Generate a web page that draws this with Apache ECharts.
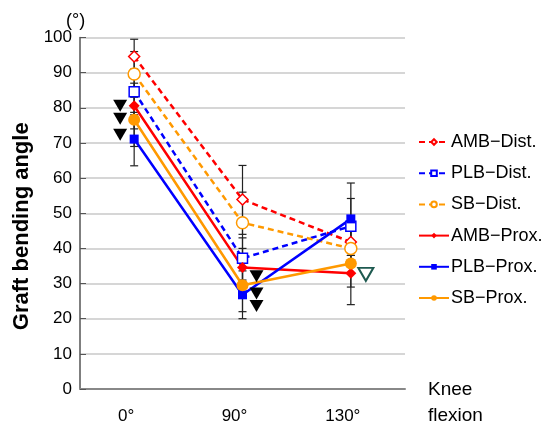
<!DOCTYPE html>
<html>
<head>
<meta charset="utf-8">
<script src="https://cdn.jsdelivr.net/npm/echarts@6/dist/echarts.min.js"></script>
<style>
  html, body { margin: 0; padding: 0; background: #fff; }
  #main { width: 541px; height: 425px; }
</style>
</head>
<body>
<div id="main"></div>
<script>
// knee flexion angles
var flexion = ['0°', '90°', '130°'];

// mean bending angle per graft
var ambDist = [94.6, 53.9, 41.8];
var plbDist = [84.6, 37.2, 46.3];
var sbDist  = [89.6, 47.3, 40.0];
var ambProx = [80.6, 34.6, 32.9];
var plbProx = [71.1, 26.8, 48.4];
var sbProx  = [76.6, 29.5, 35.7];

// error bar ends (low / high)
var ambDistLow = [89.8, 44.0, 36.0], ambDistHigh = [99.5, 63.6, 47.6];
var plbDistLow = [78.0, 31.0, 38.0], plbDistHigh = [91.0, 43.0, 54.2];
var sbDistLow  = [83.0, 38.0, 35.0], sbDistHigh  = [96.0, 56.0, 45.0];
var ambProxLow = [74.0, 29.0, 24.0], ambProxHigh = [87.0, 40.0, 41.8];
var plbProxLow = [63.5, 20.0, 38.0], plbProxHigh = [78.7, 33.6, 58.6];
var sbProxLow  = [69.0, 22.0, 29.0], sbProxHigh  = [84.0, 37.0, 42.0];

// significance marks
var sigAt0 = [80.6, 76.9, 72.3];
var sigAt90 = [32.1, 27.2, 23.6];
var sigOpenAt130 = [32.6];

var RED = '#ff0000', BLUE = '#0000ff', ORANGE = '#ff9900';
var FONT = 'Liberation Sans';

var chart = echarts.init(document.getElementById('main'), null, { renderer: 'canvas' });

function lineSeries(name, data, color, dashed, symbol, size, filled) {
  return {
    name: name,
    type: 'line',
    data: data,
    symbol: symbol,
    symbolSize: size,
    z: 5,
    lineStyle: { color: color, width: 2.5, type: dashed ? [6, 4] : 'solid' },
    itemStyle: { color: filled ? color : '#fff', borderColor: color, borderWidth: filled ? 0 : 1.5 },
    emphasis: { disabled: true },
    animation: false
  };
}

function errorData(low, high) {
  var out = [];
  for (var i = 0; i < low.length; i++) out.push([i, low[i], high[i]]);
  return out;
}

var allErrors = []
  .concat(errorData(ambDistLow, ambDistHigh))
  .concat(errorData(plbDistLow, plbDistHigh))
  .concat(errorData(sbDistLow, sbDistHigh))
  .concat(errorData(ambProxLow, ambProxHigh))
  .concat(errorData(plbProxLow, plbProxHigh))
  .concat(errorData(sbProxLow, sbProxHigh));

function renderError(params, api) {
  var lo = api.coord([api.value(0), api.value(1)]);
  var hi = api.coord([api.value(0), api.value(2)]);
  var w = 4;
  var st = { stroke: '#222', lineWidth: 1.2 };
  return {
    type: 'group',
    children: [
      { type: 'line', shape: { x1: lo[0], y1: lo[1], x2: hi[0], y2: hi[1] }, style: st },
      { type: 'line', shape: { x1: lo[0] - w, y1: lo[1], x2: lo[0] + w, y2: lo[1] }, style: st },
      { type: 'line', shape: { x1: hi[0] - w, y1: hi[1], x2: hi[0] + w, y2: hi[1] }, style: st }
    ]
  };
}

function sigData(idx, vals) {
  return vals.map(function (v) { return [idx, v]; });
}

var option = {
  backgroundColor: '#fff',
  animation: false,
  textStyle: { fontFamily: FONT },
  grid: { left: 80, right: 136, top: 37.5, bottom: 35 },
  legend: {
    orient: 'vertical',
    left: 413,
    top: 128,
    itemWidth: 30,
    itemHeight: 7,
    itemGap: 13.2,
    data: ['AMB−Dist.', 'PLB−Dist.', 'SB−Dist.', 'AMB−Prox.', 'PLB−Prox.', 'SB−Prox.'],
    textStyle: { color: '#000', fontSize: 18, fontFamily: FONT, padding: [0, 0, 0, -3] },
    selectedMode: false
  },
  xAxis: {
    type: 'category',
    data: flexion,
    boundaryGap: true,
    axisLine: { lineStyle: { color: '#888', width: 2 } },
    axisTick: { show: false },
    axisLabel: { color: '#000', fontSize: 17, margin: 19, fontFamily: FONT, padding: [0, 16, 0, 0] }
  },
  yAxis: {
    type: 'value',
    min: 0,
    max: 100,
    interval: 10,
    name: 'Graft bending angle',
    nameLocation: 'middle',
    nameGap: 46,
    nameTextStyle: { color: '#000', fontSize: 22, fontWeight: 'bold', fontFamily: FONT, padding: [0, 26, 0, 0] },
    axisLine: { show: true, lineStyle: { color: '#555', width: 1.5 } },
    axisTick: { show: true, inside: true, length: 6, lineStyle: { color: '#555' } },
    axisLabel: { color: '#000', fontSize: 17, margin: 8, fontFamily: FONT },
    splitLine: { lineStyle: { color: '#c8c8c8', width: 1.5 } }
  },
  graphic: [
    { type: 'text', left: 66, top: 12, style: { text: '(°)', fontSize: 18, fill: '#000', fontFamily: FONT } },
    { type: 'text', left: 428, top: 377, style: { text: 'Knee\nflexion', fontSize: 19, lineHeight: 26, fill: '#000', fontFamily: FONT } }
  ],
  series: [
    {
      type: 'custom',
      renderItem: renderError,
      data: allErrors,
      z: 2,
      silent: true,
      encode: { x: 0, y: [1, 2] }
    },
    lineSeries('AMB−Dist.', ambDist, RED, true, 'diamond', 11, false),
    lineSeries('PLB−Dist.', plbDist, BLUE, true, 'rect', 10, false),
    lineSeries('SB−Dist.', sbDist, ORANGE, true, 'circle', 12, false),
    lineSeries('AMB−Prox.', ambProx, RED, false, 'diamond', 11, true),
    lineSeries('PLB−Prox.', plbProx, BLUE, false, 'rect', 9, true),
    lineSeries('SB−Prox.', sbProx, ORANGE, false, 'circle', 12, true),
    {
      type: 'scatter',
      data: sigData(0, sigAt0),
      symbol: 'triangle',
      symbolRotate: 180,
      symbolSize: [14, 12],
      symbolOffset: [-14, 0],
      itemStyle: { color: '#000', opacity: 1 },
      z: 6
    },
    {
      type: 'scatter',
      data: sigData(1, sigAt90),
      symbol: 'triangle',
      symbolRotate: 180,
      symbolSize: [14, 12],
      symbolOffset: [14, 0],
      itemStyle: { color: '#000', opacity: 1 },
      z: 6
    },
    {
      type: 'scatter',
      data: sigData(2, sigOpenAt130),
      symbol: 'triangle',
      symbolRotate: 180,
      symbolSize: [15, 13],
      symbolOffset: [15, 0],
      itemStyle: { color: '#fff', borderColor: '#1e5a50', borderWidth: 2, opacity: 1 },
      z: 6
    }
  ]
};

chart.setOption(option);
</script>
</body>
</html>
